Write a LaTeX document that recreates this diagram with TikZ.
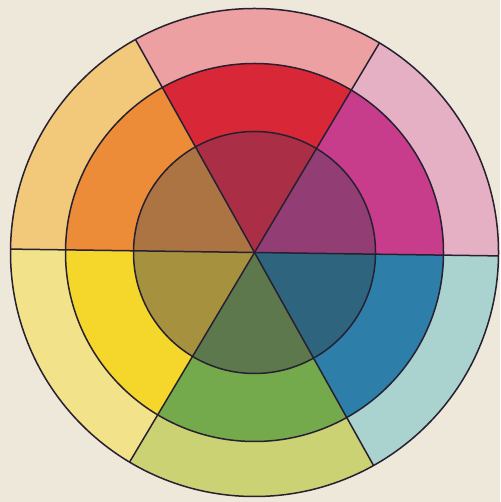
\documentclass[tikz,border=0pt]{standalone}
\definecolor{bg}{RGB}{238,232,218}
\definecolor{ink}{RGB}{38,32,48}
% outer ring
\definecolor{oA}{RGB}{230,176,196}
\definecolor{oB}{RGB}{236,160,162}
\definecolor{oC}{RGB}{242,200,122}
\definecolor{oD}{RGB}{242,226,138}
\definecolor{oE}{RGB}{202,210,116}
\definecolor{oF}{RGB}{170,210,206}
% middle ring
\definecolor{mA}{RGB}{200,60,140}
\definecolor{mB}{RGB}{216,40,56}
\definecolor{mC}{RGB}{236,140,56}
\definecolor{mD}{RGB}{245,214,42}
\definecolor{mE}{RGB}{116,170,76}
\definecolor{mF}{RGB}{46,126,170}
% inner disc
\definecolor{iA}{RGB}{146,62,116}
\definecolor{iB}{RGB}{170,46,70}
\definecolor{iC}{RGB}{172,116,66}
\definecolor{iD}{RGB}{166,146,62}
\definecolor{iE}{RGB}{92,120,76}
\definecolor{iF}{RGB}{46,100,126}
\tikzset{
  ringline/.style={draw=ink, line width=0.75pt},
}
\begin{document}
\begin{tikzpicture}[x=0.5pt,y=0.5pt]
\fill[bg] (0,0) rectangle (500,502);
\useasboundingbox (0,0) rectangle (500,502);
\coordinate (C) at (254.5,249.5);
\def\rot{-0.8}
\foreach \a/\oc/\mc/\ic in {0/oA/mA/iA,60/oB/mB/iB,120/oC/mC/iC,180/oD/mD/iD,240/oE/mE/iE,300/oF/mF/iF}{
  \pgfmathsetmacro{\s}{\a+\rot}
  \pgfmathsetmacro{\e}{\a+60+\rot}
  \fill[\oc] (C) -- ([shift={(\s:244)}]C) arc[start angle=\s, end angle=\e, radius=244] -- cycle;
  \fill[\mc] (C) -- ([shift={(\s:189)}]C) arc[start angle=\s, end angle=\e, radius=189] -- cycle;
  \fill[\ic] (C) -- ([shift={(\s:121)}]C) arc[start angle=\s, end angle=\e, radius=121] -- cycle;
}
\draw[ringline] (C) circle[radius=244];
\draw[ringline] (C) circle[radius=189];
\draw[ringline] (C) circle[radius=121];
\foreach \a in {0,60,120,180,240,300}{
  \pgfmathsetmacro{\s}{\a+\rot}
  \draw[ringline] (C) -- ([shift={(\s:244)}]C);
}
\end{tikzpicture}
\end{document}
